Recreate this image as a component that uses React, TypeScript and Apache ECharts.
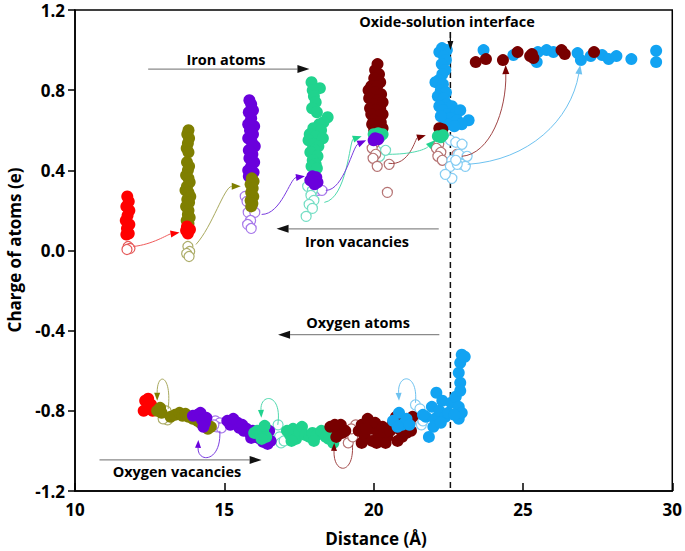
import React, { useEffect, useRef } from "react";
import * as echarts from "echarts";

// ---------------- data ----------------
const X_TICKS = [10, 15, 20, 25, 30];
const Y_TICKS = [-1.2, -0.8, -0.4, 0.0, 0.4, 0.8, 1.2];
const INTERFACE_X = 22.57;
const INTERFACE_LINE = [[INTERFACE_X, 1.09], [INTERFACE_X, -1.2]];

// Iron atoms (filled) and iron vacancies (hollow)
const redFe = [[11.75,0.27],[11.8,0.245],[11.72,0.22],[11.82,0.2],[11.76,0.175],[11.7,0.15],[11.82,0.13],[11.74,0.11],[11.8,0.085],[11.72,0.08],
  [13.75,0.12],[13.85,0.105],[13.78,0.085],[13.72,0.1]];
const redFeVac = [[11.78,0.02],[11.84,0.01],[11.74,0.005]];
const oliveFe = [[13.8,0.6],[13.76,0.58],[13.82,0.56],[13.78,0.535],[13.74,0.51],[13.8,0.49],[13.75,0.44],[13.82,0.42],[13.78,0.4],[13.72,0.375],[13.8,0.36],[13.84,0.34],[13.75,0.32],[13.7,0.3],[13.8,0.29],[13.86,0.27],[13.76,0.255],[13.82,0.24],[13.72,0.22],[13.8,0.2],[13.78,0.18],[13.84,0.165],[13.74,0.15],[13.8,0.135],
  [15.92,0.36],[15.98,0.345],[15.88,0.33],[15.95,0.31],[15.9,0.29],[15.97,0.27],[15.88,0.25],[15.94,0.235],[15.9,0.22]];
const oliveFeVac = [[13.78,0.02],[13.84,-0.005],[13.74,-0.015],[13.82,-0.03]];
const purpleFe = [[15.84,0.75],[15.9,0.73],[15.96,0.7],[15.82,0.69],[15.9,0.66],[15.8,0.63],[16.0,0.62],[15.86,0.6],[15.96,0.58],[15.8,0.56],[15.92,0.54],[16.02,0.52],[15.82,0.5],[15.94,0.48],[15.84,0.46],[16.0,0.44],[15.9,0.42],[15.8,0.4],[15.98,0.39],[15.9,0.38],[15.82,0.37],
  [17.95,0.37],[18.08,0.365],[18.0,0.345],[17.88,0.35],[18.12,0.34],[18.02,0.33],
  [20.05,0.56],[20.15,0.555],[20.0,0.55]];
const purpleFeVac = [[15.7,0.27],[15.76,0.245],[15.92,0.22],[15.8,0.19],[16.02,0.19],[15.88,0.15],[15.78,0.13],[15.9,0.11],[18.14,0.3],[18.27,0.3]];
const tealFe = [[17.92,0.84],[18.2,0.81],[17.96,0.8],[18.0,0.77],[18.06,0.74],[17.94,0.71],[18.1,0.69],[18.46,0.665],[18.32,0.64],[18.18,0.63],[17.98,0.61],[18.24,0.6],[17.86,0.58],[18.05,0.57],[18.3,0.56],[17.82,0.55],[17.96,0.53],[18.15,0.52],[18.02,0.5],[17.88,0.49],[18.12,0.47],[17.96,0.45],[18.06,0.43],[17.92,0.42],[18.1,0.41],
  [20.0,0.58],[20.15,0.585],[20.3,0.58],[20.2,0.565],
  [22.15,0.57],[22.25,0.565],[22.32,0.575]];
const tealFeVac = [[17.79,0.32],[17.95,0.3],[17.9,0.275],[18.0,0.25],[17.84,0.23],[17.95,0.21],[17.74,0.17],[20.07,0.5],[20.2,0.47],[20.4,0.5]];
const darkRedFe = [[20.13,0.93],[20.05,0.9],[20.18,0.88],[20.02,0.86],[20.22,0.84],[19.92,0.82],[20.12,0.82],[19.83,0.8],[20.05,0.79],[20.25,0.78],[19.85,0.76],[20.12,0.75],[20.3,0.74],[19.98,0.73],[19.88,0.71],[20.22,0.71],[20.06,0.7],[19.92,0.68],[20.3,0.68],[20.16,0.67],[20.0,0.65],[20.24,0.64],[19.95,0.63],[20.12,0.62],[20.3,0.61],[20.02,0.6],[20.18,0.595],
  [22.2,0.61],[22.3,0.605],[22.25,0.59],
  [23.42,0.94],[23.76,0.955],[24.33,0.95],[24.82,0.99],[25.24,0.97],[25.35,0.96],[25.3,0.98],[26.29,1.0],[26.4,0.98],[27.38,0.99]];
const darkRedFeVac = [[20.02,0.535],[19.95,0.51],[20.07,0.48],[19.98,0.46],[20.12,0.42],[20.52,0.43],[20.46,0.29],
  [22.18,0.53],[22.1,0.51],[22.25,0.49],[22.15,0.47],[22.3,0.45],[22.79,0.48]];
const blueFe = [[22.29,1.01],[22.45,1.0],[22.2,0.99],[22.35,0.97],[22.42,0.95],[22.28,0.93],[22.4,0.9],[22.3,0.88],[22.18,0.85],[22.07,0.84],[22.32,0.83],[22.25,0.8],[22.42,0.79],[22.15,0.77],[22.35,0.76],[22.45,0.73],[22.62,0.72],[22.2,0.72],[22.3,0.7],[22.47,0.68],[22.73,0.68],[22.9,0.7],[22.35,0.66],[22.58,0.66],[22.8,0.65],[23.18,0.65],[22.48,0.63],[22.95,0.63],[22.7,0.62],[22.25,0.67],
  [23.68,1.0],[24.68,0.975],[25.46,0.94],[25.5,0.99],[25.79,1.0],[26.02,0.99],[26.83,0.985],[26.94,0.95],[27.27,0.97],[27.65,0.975],[27.87,0.955],[28.13,0.97],[28.63,0.955],[29.46,0.997],[29.46,0.94]];
const blueFeVac = [[22.57,0.55],[22.75,0.54],[22.96,0.53],[22.85,0.48],[22.62,0.45],[22.95,0.43],[23.13,0.47],[22.57,0.42],[22.62,0.36],[23.07,0.42],[22.8,0.43],[22.4,0.38],[22.75,0.45]];

// Oxygen atoms (filled) and oxygen vacancies (hollow)
const redO = [[12.35,-0.75],[12.45,-0.74],[12.3,-0.8],[12.42,-0.79],[12.55,-0.77],[12.6,-0.8]];
const oliveO = [[12.75,-0.8],[12.9,-0.81],[12.85,-0.785],[13.2,-0.83],[13.35,-0.82],[13.5,-0.81],[13.6,-0.825],[13.7,-0.815],[13.8,-0.83],[13.95,-0.84],[14.1,-0.85],[14.2,-0.86],[14.35,-0.87],[14.45,-0.89],[14.55,-0.88]];
const oliveOVac = [[13.05,-0.8],[13.1,-0.845],[12.95,-0.84]];
const purpleO = [[13.95,-0.825],[14.1,-0.82],[14.2,-0.81],[14.25,-0.845],[14.35,-0.86],[14.4,-0.835],[14.3,-0.88],
  [15.1,-0.85],[15.2,-0.87],[15.3,-0.84],[15.45,-0.86],[15.5,-0.885],[15.6,-0.87],[15.75,-0.89],[15.85,-0.91],[15.95,-0.9],[16.05,-0.93],[16.2,-0.94],[16.15,-0.91],[16.35,-0.92],[16.5,-0.9],[16.55,-0.95],[16.45,-0.965],[16.3,-0.955],[15.65,-0.9],[15.9,-0.935]];
const purpleOVac = [[14.7,-0.85],[14.85,-0.86],[14.75,-0.88],[14.9,-0.885],[14.65,-0.87]];
const tealO = [[16.0,-0.91],[16.1,-0.9],[16.2,-0.92],[16.3,-0.9],[16.4,-0.93],[16.25,-0.94],[16.35,-0.875],
  [17.1,-0.9],[17.2,-0.92],[17.3,-0.89],[17.4,-0.94],[17.5,-0.9],[17.6,-0.88],[17.7,-0.92],[17.85,-0.93],[17.95,-0.91],[18.1,-0.92],[18.25,-0.9],[18.4,-0.93],[18.55,-0.89],[18.65,-0.96],[18.5,-0.94],[17.25,-0.95],[18.0,-0.95]];
const tealOVac = [[16.75,-0.9],[16.85,-0.93],[16.9,-0.96],[16.8,-0.87],[17.0,-0.95]];
const darkRedO = [[18.55,-0.88],[18.7,-0.87],[18.8,-0.9],[18.95,-0.91],[18.75,-0.93],[18.9,-0.87],[19.05,-0.9],
  [19.5,-0.9],[19.6,-0.87],[19.7,-0.93],[19.8,-0.84],[19.9,-0.89],[19.95,-0.95],[20.05,-0.86],[20.15,-0.91],[20.25,-0.94],[20.3,-0.88],[20.45,-0.93],[20.55,-0.9],[20.65,-0.86],[20.75,-0.83],[20.85,-0.89],[20.95,-0.93],[21.1,-0.91],[21.2,-0.86],[21.3,-0.83],[21.25,-0.9],[19.6,-0.96],[20.1,-0.96],[19.75,-0.89],[20.4,-0.96],[20.8,-0.95],[21.05,-0.87]];
const darkRedOVac = [[19.15,-0.96],[19.3,-0.93],[19.4,-0.87],[19.25,-0.89]];
const blueO = [[20.65,-0.85],[20.85,-0.81],[20.95,-0.87],[21.1,-0.84],[21.2,-0.87],[20.8,-0.88],
  [21.75,-0.83],[21.85,-0.93],[21.95,-0.78],[22.05,-0.84],[22.1,-0.71],[22.2,-0.8],[22.3,-0.75],[22.4,-0.83],[22.5,-0.81],[22.6,-0.76],[22.75,-0.73],[22.85,-0.84],[22.85,-0.78],[22.9,-0.66],[22.85,-0.61],[22.9,-0.56],[22.95,-0.52],[23.05,-0.53],[22.9,-0.7],[22.95,-0.81],[21.65,-0.82],[22.0,-0.88],[22.25,-0.86],[22.7,-0.82]];
const blueOVac = [[21.4,-0.77],[21.5,-0.82],[21.6,-0.87],[21.55,-0.79],[21.65,-0.85]];

// Arrows: [x1, y1, cx1, cy1, cx2, cy2, x2, y2] in data units
const arrowPaths = [
  [11.95,0.02, 12.6,0.03, 13.1,0.08, 13.5,0.09],
  [14.05,0.03, 14.6,0.12, 15.0,0.32, 15.55,0.32],
  [16.25,0.18, 16.9,0.18, 17.2,0.36, 17.7,0.37],
  [18.35,0.24, 19.1,0.26, 19.2,0.55, 19.6,0.57],
  [18.4,0.3, 19.0,0.3, 19.3,0.52, 19.75,0.55],
  [20.5,0.435, 21.2,0.42, 21.4,0.56, 21.75,0.575],
  [20.5,0.48, 21.2,0.48, 21.7,0.5, 22.05,0.55],
  [22.95,0.47, 23.9,0.48, 24.45,0.7, 24.42,0.925],
  [23.15,0.43, 25.2,0.45, 26.6,0.65, 26.92,0.925],
  [13.12,-0.79, 13.25,-0.62, 12.75,-0.6, 12.75,-0.75],
  [14.85,-0.9, 14.9,-1.06, 14.1,-1.06, 14.13,-0.945],
  [16.79,-0.87, 16.95,-0.71, 16.2,-0.71, 16.24,-0.835],
  [19.29,-0.97, 19.35,-1.12, 18.65,-1.12, 18.68,-0.96],
  [21.4,-0.76, 21.5,-0.61, 20.8,-0.61, 20.85,-0.75],
  [12.45,0.905, 12.45,0.905, 17.85,0.905, 17.85,0.905],
  [22.18,0.108, 22.18,0.108, 16.75,0.108, 16.75,0.108],
  [22.2,-0.42, 22.2,-0.42, 16.8,-0.42, 16.8,-0.42],
  [10.82,-1.045, 10.82,-1.045, 16.25,-1.045, 16.25,-1.045],
  [INTERFACE_X,1.09, INTERFACE_X,1.09, INTERFACE_X,1.0, INTERFACE_X,1.0],
];

// ---------------- styles ----------------
const C = {
  red: "#FF0000", olive: "#7F7F00", purple: "#6A00DC", teal: "#20D38E", dred: "#780000", blue: "#12A3F2",
};
const CV = {
  red: "#E55A5A", olive: "#ADAD6A", purple: "#A778EA", teal: "#74DEC4", dred: "#B57373", blue: "#86CDF3",
};
const CA = {
  red: "#F05A5A", olive: "#A9A95E", purple: "#7A3CE0", teal: "#4FD9AE", dred: "#A04545", blue: "#6EC2F0",
};
const arrowStyles = [
  { line: CA.red, head: C.red, w: 1, hl: 9, hw: 3.5 },
  { line: CA.olive, head: C.olive, w: 1, hl: 9, hw: 3.5 },
  { line: CA.purple, head: C.purple, w: 1, hl: 9, hw: 3.5 },
  { line: CA.teal, head: C.teal, w: 1, hl: 9, hw: 3.5 },
  { line: CA.purple, head: C.purple, w: 1, hl: 9, hw: 3.5 },
  { line: CA.dred, head: C.dred, w: 1, hl: 9, hw: 3.5 },
  { line: CA.teal, head: C.teal, w: 1, hl: 9, hw: 3.5 },
  { line: CA.dred, head: C.dred, w: 1, hl: 9, hw: 3.5 },
  { line: CA.blue, head: CA.blue, w: 1, hl: 9, hw: 3.5 },
  { line: CA.olive, head: C.olive, w: 1, hl: 8, hw: 3 },
  { line: CA.purple, head: C.purple, w: 1, hl: 8, hw: 3 },
  { line: CA.teal, head: C.teal, w: 1, hl: 8, hw: 3 },
  { line: CA.dred, head: C.dred, w: 1, hl: 8, hw: 3 },
  { line: CA.blue, head: CA.blue, w: 1, hl: 8, hw: 3 },
  { line: "#8A8A8A", head: "#111", w: 1.3, hl: 12, hw: 4 },
  { line: "#8A8A8A", head: "#111", w: 1.3, hl: 12, hw: 4 },
  { line: "#8A8A8A", head: "#111", w: 1.3, hl: 12, hw: 4 },
  { line: "#8A8A8A", head: "#111", w: 1.3, hl: 12, hw: 4 },
  { line: "#111", head: "#111", w: 1.2, hl: 9, hw: 3 },
];

const FONT = '"Open Sans", Lato, Arial, sans-serif';

function filled(data: number[][], color: string, z: number) {
  return {
    type: "scatter", data, symbol: "circle", symbolSize: 12, silent: true, z,
    itemStyle: { color, opacity: 1 },
  };
}
function hollow(data: number[][], color: string) {
  return {
    type: "scatter", data, symbol: "circle", symbolSize: 10, silent: true, z: 2,
    itemStyle: { color: "#ffffff", borderColor: color, borderWidth: 1.2, opacity: 1 },
  };
}

export default function App() {
  const ref = useRef<HTMLDivElement>(null);
  useEffect(() => {
    if (!ref.current) return;
    const chart = echarts.init(ref.current, undefined, { renderer: "svg" });
    const texts = [
      { t: "Oxide-solution interface", x: 447, y: 21 },
      { t: "Iron atoms", x: 226, y: 59 },
      { t: "Iron vacancies", x: 357, y: 241 },
      { t: "Oxygen atoms", x: 358, y: 322 },
      { t: "Oxygen vacancies", x: 177, y: 471 },
    ];
    const option: any = {
      animation: false,
      backgroundColor: "#ffffff",
      grid: { left: 75, right: 12, top: 10, bottom: 60, show: true, borderColor: "#000", borderWidth: 1.5, backgroundColor: "transparent" },
      xAxis: {
        type: "value", min: X_TICKS[0], max: X_TICKS[X_TICKS.length - 1], interval: 5,
        splitLine: { show: false },
        axisLine: { show: true, onZero: false, lineStyle: { color: "#000", width: 1.5 } },
        axisTick: { show: true, inside: true, length: 8, lineStyle: { color: "#000", width: 1.5 } },
        axisLabel: { color: "#000", fontFamily: FONT, fontWeight: "bold", fontSize: 17, margin: 10 },
      },
      yAxis: {
        type: "value", min: Y_TICKS[0], max: Y_TICKS[Y_TICKS.length - 1], interval: 0.4,
        splitLine: { show: false },
        axisLine: { show: true, onZero: false, lineStyle: { color: "#000", width: 1.5 } },
        axisTick: { show: true, inside: false, length: 7, lineStyle: { color: "#000", width: 1.5 } },
        axisLabel: { color: "#000", fontFamily: FONT, fontWeight: "bold", fontSize: 17, margin: 10,
          formatter: (v: number) => (Math.abs(v) < 1e-9 ? 0 : v).toFixed(1) },
      },
      graphic: [
        ...texts.map((d) => ({
          type: "text", x: d.x, y: d.y, z: 100, silent: true,
          style: { text: d.t, fill: "#000", font: `bold 14.5px ${FONT}`, textAlign: "center", textVerticalAlign: "middle" },
        })),
        { type: "text", x: 376, y: 538, silent: true,
          style: { text: "Distance (Å)", fill: "#000", font: `bold 17px ${FONT}`, textAlign: "center", textVerticalAlign: "middle" } },
        { type: "text", x: 14, y: 250, rotation: Math.PI / 2, silent: true,
          style: { text: "Charge of atoms (e)", fill: "#000", font: `bold 17px ${FONT}`, textAlign: "center", textVerticalAlign: "middle" } },
      ],
      series: [
        { type: "line", data: INTERFACE_LINE, symbol: "none", silent: true, z: 1,
          lineStyle: { color: "#111", width: 1.5, type: [6, 4] } },
        hollow(redFeVac, CV.red), hollow(oliveFeVac, CV.olive), hollow(purpleFeVac, CV.purple),
        hollow(tealFeVac, CV.teal), hollow(darkRedFeVac, CV.dred), hollow(blueFeVac, CV.blue),
        hollow(oliveOVac, CV.olive), hollow(purpleOVac, CV.purple), hollow(tealOVac, CV.teal),
        hollow(darkRedOVac, CV.dred), hollow(blueOVac, CV.blue),
        filled(blueFe, C.blue, 3), filled(darkRedFe, C.dred, 4), filled(tealFe, C.teal, 5),
        filled(purpleFe, C.purple, 6), filled(oliveFe, C.olive, 7), filled(redFe, C.red, 8),
        filled(redO, C.red, 3), filled(oliveO, C.olive, 4), filled(purpleO, C.purple, 5),
        filled(tealO, C.teal, 6), filled(darkRedO, C.dred, 7), filled(blueO, C.blue, 8),
        {
          type: "custom", silent: true, z: 20, clip: false,
          data: arrowPaths,
          encode: { x: [0, 2, 4, 6], y: [1, 3, 5, 7] },
          renderItem: (params: any, api: any) => {
            const st = arrowStyles[params.dataIndex];
            const p0 = api.coord([api.value(0), api.value(1)]);
            const c1 = api.coord([api.value(2), api.value(3)]);
            const c2 = api.coord([api.value(4), api.value(5)]);
            const p3 = api.coord([api.value(6), api.value(7)]);
            let dx = p3[0] - c2[0], dy = p3[1] - c2[1];
            if (Math.hypot(dx, dy) < 1e-6) { dx = p3[0] - p0[0]; dy = p3[1] - p0[1]; }
            const len = Math.hypot(dx, dy) || 1;
            const ux = dx / len, uy = dy / len;
            const bx = p3[0] - ux * st.hl, by = p3[1] - uy * st.hl;
            const pts = [[p3[0], p3[1]], [bx - uy * st.hw, by + ux * st.hw], [bx + uy * st.hw, by - ux * st.hw]];
            const sameEnd = Math.hypot(p3[0] - c2[0], p3[1] - c2[1]) < 1e-6;
            return {
              type: "group",
              children: [
                { type: "bezierCurve",
                  shape: { x1: p0[0], y1: p0[1], cpx1: c1[0], cpy1: c1[1],
                    cpx2: sameEnd ? bx : c2[0], cpy2: sameEnd ? by : c2[1], x2: bx, y2: by },
                  style: { stroke: st.line, fill: "none", lineWidth: st.w } },
                { type: "polygon", shape: { points: pts }, style: { fill: st.head } },
              ],
            };
          },
        },
      ],
    };
    chart.setOption(option);
    return () => chart.dispose();
  }, []);
  return (
    <div ref={ref} style={{ position: "absolute", left: 0, top: 0, width: 685, height: 551, background: "#fff" }} />
  );
}
